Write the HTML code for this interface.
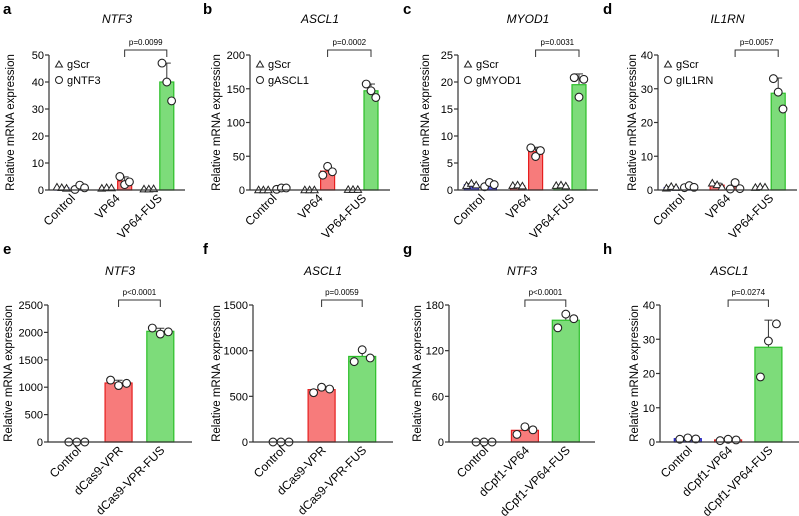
<!DOCTYPE html>
<html><head><meta charset="utf-8">
<style>
html,body{margin:0;padding:0;background:#fff;}
svg{display:block;font-family:"Liberation Sans",Arial,sans-serif;}
</style></head>
<body>
<svg id="fig" width="799" height="516" viewBox="0 0 799 516" xmlns="http://www.w3.org/2000/svg"></svg>
<script>
// ---- data ----
const topCats = ["Control","VP64","VP64-FUS"];
const aScr = [[1,0.8,0.6],[0.6,0.8,0.7],[0.3,0.3,0.4]];
const aTgt = [[0.2,1.8,0.8],[5,2,3],[47,40,33]];
const aTicks = [0,10,20,30,40,50];
const bScr = [[0,0,0],[0,0,0],[0.5,0.5,0.5]];
const bTgt = [[1,3,3],[22,35,27],[157,147,137]];
const bTicks = [0,50,100,150,200];
const cScr = [[0.8,1.2,0.9],[0.8,0.9,0.7],[0.8,0.9,0.7]];
const cTgt = [[0.6,1.4,1.0],[7.8,6.2,7.3],[20.8,17.2,20.5]];
const cTicks = [0,5,10,15,20,25];
const dScr = [[0.5,1,0.7],[2,1.5,0.8],[0.7,0.9,0.8]];
const dTgt = [[0.7,1.3,0.8],[0.3,2.2,0.4],[33,29,24]];
const dTicks = [0,10,20,30,40];
const efCats = ["Control","dCas9-VPR","dCas9-VPR-FUS"];
const ghCats = ["Control","dCpf1-VP64","dCpf1-VP64-FUS"];
const eVals = [[0,0,0],[1130,1030,1070],[2080,1970,2010]];
const eTicks = [0,500,1000,1500,2000,2500];
const fVals = [[0,0,0],[540,600,580],[880,1010,920]];
const fTicks = [0,500,1000,1500];
const gVals = [[0,0,0],[10,20,16],[150,168,162]];
const gTicks = [0,60,120,180];
const hVals = [[0.8,1.2,0.9],[0.4,0.8,0.6],[19,29.5,34.5]];
const hTicks = [0,10,20,30,40];
const pvals = ["p=0.0099","p=0.0002","p=0.0031","p=0.0057","p<0.0001","p=0.0059","p<0.0001","p=0.0274"];

const NS="http://www.w3.org/2000/svg";
const svg=document.getElementById('fig');
function mk(tag,attrs,parent){const e=document.createElementNS(NS,tag);for(const k in attrs)e.setAttribute(k,attrs[k]);(parent||svg).appendChild(e);return e;}
const FILL=["#5a5ae6","#f77b7b","#7ddc7a"], STROKE=["#2323c8","#e61e1e","#2bbf28"];
const mean=a=>a.reduce((s,v)=>s+v,0)/a.length;
const sd=a=>{const m=mean(a);return Math.sqrt(a.reduce((s,v)=>s+(v-m)*(v-m),0)/(a.length-1));};

function panel(o){
  const g=mk('g',{});
  
  
  const y=v=>o.y0-(v/o.max)*(o.y0-o.y1);
  const w=o.x1-o.ax;
  const cx=i=>o.ax+w*o.fr[i];
  const L=mk('text',{x:o.left+3,y:o.letterY,'font-size':15,'font-weight':'bold'},g);L.textContent=o.letter;
  
  const T=mk('text',{x:(o.ax+o.x1)/2,y:o.titleY,'font-size':12,'font-style':'italic','text-anchor':'middle'},g);T.textContent=o.title;
  
  const YT=mk('text',{x:0,y:0,'font-size':11.5,'text-anchor':'middle',transform:`translate(${o.left+o.ytx+4},${(o.y0+o.y1)/2}) rotate(-90)`},g);YT.textContent="Relative mRNA expression";
  
  const ya=mk('line',{x1:o.ax,y1:o.y1,x2:o.ax,y2:o.y0,stroke:'#333','stroke-width':1.2},g);
  
  o.ticks.forEach(t=>{
    mk('line',{x1:o.ax-4,x2:o.ax,y1:y(t),y2:y(t),stroke:'#333','stroke-width':1.2},g);
    const tl=mk('text',{x:o.ax-5,y:y(t)+4,'font-size':11,'text-anchor':'end'},g);tl.textContent=t;
    
  });
  o.series.forEach((s,si)=>{
    s.vals.forEach((pts,ci)=>{
      const x=cx(ci)+s.off, m=mean(pts), sdv=sd(pts);
      if(sdv>0){
        mk('line',{x1:x,x2:x,y1:y(m),y2:y(m+sdv),stroke:'#333','stroke-width':1},g);
        mk('line',{x1:x-4,x2:x+4,y1:y(m+sdv),y2:y(m+sdv),stroke:'#333','stroke-width':1},g);
      }
      const b=mk('rect',{x:x-o.bw/2,y:y(m),width:o.bw,height:Math.max(0,o.y0-y(m)),fill:FILL[ci],stroke:STROKE[ci],'stroke-width':1.2},g);
      
      
      pts.forEach((v,k)=>{
        const px=x+(k-1)*o.jit, py=y(v);
        let p;
        if(s.tri) p=mk('path',{d:`M${px},${py-3.8}L${px+3.8},${py+2.7}L${px-3.8},${py+2.7}Z`,fill:'#fff',stroke:'#222','stroke-width':1},g);
        else p=mk('circle',{cx:px,cy:py,r:3.9,fill:'#fff',stroke:'#222','stroke-width':1.1},g);
        
      });
    });
  });
  const xa=mk('line',{x1:o.ax,y1:o.y0,x2:o.x1,y2:o.y0,stroke:'#333','stroke-width':1.2},g);
  
  o.cats.forEach((c,i)=>{
    const lx=cx(i)+5, ly=o.y0+9;
    const t=mk('text',{x:0,y:0,'font-size':12,'text-anchor':'end',transform:`translate(${lx},${ly}) rotate(-45)`},g);t.textContent=c;
    
  });
  const last=o.series[o.series.length-1];
  const bx1=cx(1)+last.off, bx2=cx(2)+last.off;
  const br=mk('path',{d:`M${bx1},${o.brY+7}V${o.brY}H${bx2}V${o.brY+7}`,fill:'none',stroke:'#333','stroke-width':1},g);
  
  const pt=mk('text',{x:(bx1+bx2)/2,y:o.brY-5,'font-size':8,'text-anchor':'middle'},g);pt.textContent=o.p;
  
  if(o.legend){
    const lx=o.ax+10;
    const tri=mk('path',{d:`M${lx},${61}L${lx+3.5},${67}L${lx-3.5},${67}Z`,fill:'#fff',stroke:'#222'},g);
    
    const t1=mk('text',{x:lx+8,y:68,'font-size':11},g);t1.textContent="gScr";
    
    const ci=mk('circle',{cx:lx,cy:80,r:3.5,fill:'#fff',stroke:'#222'},g);
    
    const t2=mk('text',{x:lx+8,y:84,'font-size':11},g);t2.textContent=o.legend;
    
  }
}
const topFr=[0.16,0.49,0.8], botFr=[0.2,0.49,0.78];
const topBase={y0:190,y1:55,bw:14,jit:4.8,letterY:14,titleY:23,brY:50,fr:topFr,cats:topCats};
const botBase={y0:442,y1:305,bw:27,jit:8,letterY:254,titleY:275,brY:300,fr:botFr};
panel(Object.assign({},topBase,{letter:'a',left:0,ytx:10,ax:49,x1:185,max:50,ticks:aTicks,title:'NTF3',legend:'gNTF3',p:pvals[0],
  series:[{name:'gScr',vals:aScr,off:-9,tri:true},{name:'gNTF3',vals:aTgt,off:9}]}));
panel(Object.assign({},topBase,{letter:'b',left:200,ytx:16,ax:250,x1:390,max:200,ticks:bTicks,title:'ASCL1',legend:'gASCL1',p:pvals[1],
  series:[{name:'gScr',vals:bScr,off:-9,tri:true},{name:'gASCL1',vals:bTgt,off:9}]}));
panel(Object.assign({},topBase,{letter:'c',left:400,ytx:25,ax:458,x1:598,max:25,ticks:cTicks,title:'MYOD1',legend:'gMYOD1',p:pvals[2],
  series:[{name:'gScr',vals:cScr,off:-9,tri:true},{name:'gMYOD1',vals:cTgt,off:9}]}));
panel(Object.assign({},topBase,{letter:'d',left:600,ytx:32,ax:658,x1:797,max:40,ticks:dTicks,title:'IL1RN',legend:'gIL1RN',p:pvals[3],
  series:[{name:'gScr',vals:dScr,off:-9,tri:true},{name:'gIL1RN',vals:dTgt,off:9}]}));
panel(Object.assign({},botBase,{letter:'e',left:0,ytx:8,ax:48,x1:192,max:2500,ticks:eTicks,title:'NTF3',cats:efCats,p:pvals[4],
  series:[{name:'',vals:eVals,off:0}]}));
panel(Object.assign({},botBase,{letter:'f',left:200,ytx:16,ax:253,x1:393,max:1500,ticks:fTicks,title:'ASCL1',cats:efCats,p:pvals[5],
  series:[{name:'',vals:fVals,off:0}]}));
panel(Object.assign({},botBase,{letter:'g',left:400,ytx:17,ax:449,x1:595,max:180,ticks:gTicks,title:'NTF3',cats:ghCats,p:pvals[6],fr:[0.24,0.52,0.8],
  series:[{name:'',vals:gVals,off:0}]}));
panel(Object.assign({},botBase,{letter:'h',left:600,ytx:34,ax:660,x1:799,max:40,ticks:hTicks,title:'ASCL1',cats:ghCats,p:pvals[7],
  series:[{name:'',vals:hVals,off:0}]}));
</script>
</body></html>
